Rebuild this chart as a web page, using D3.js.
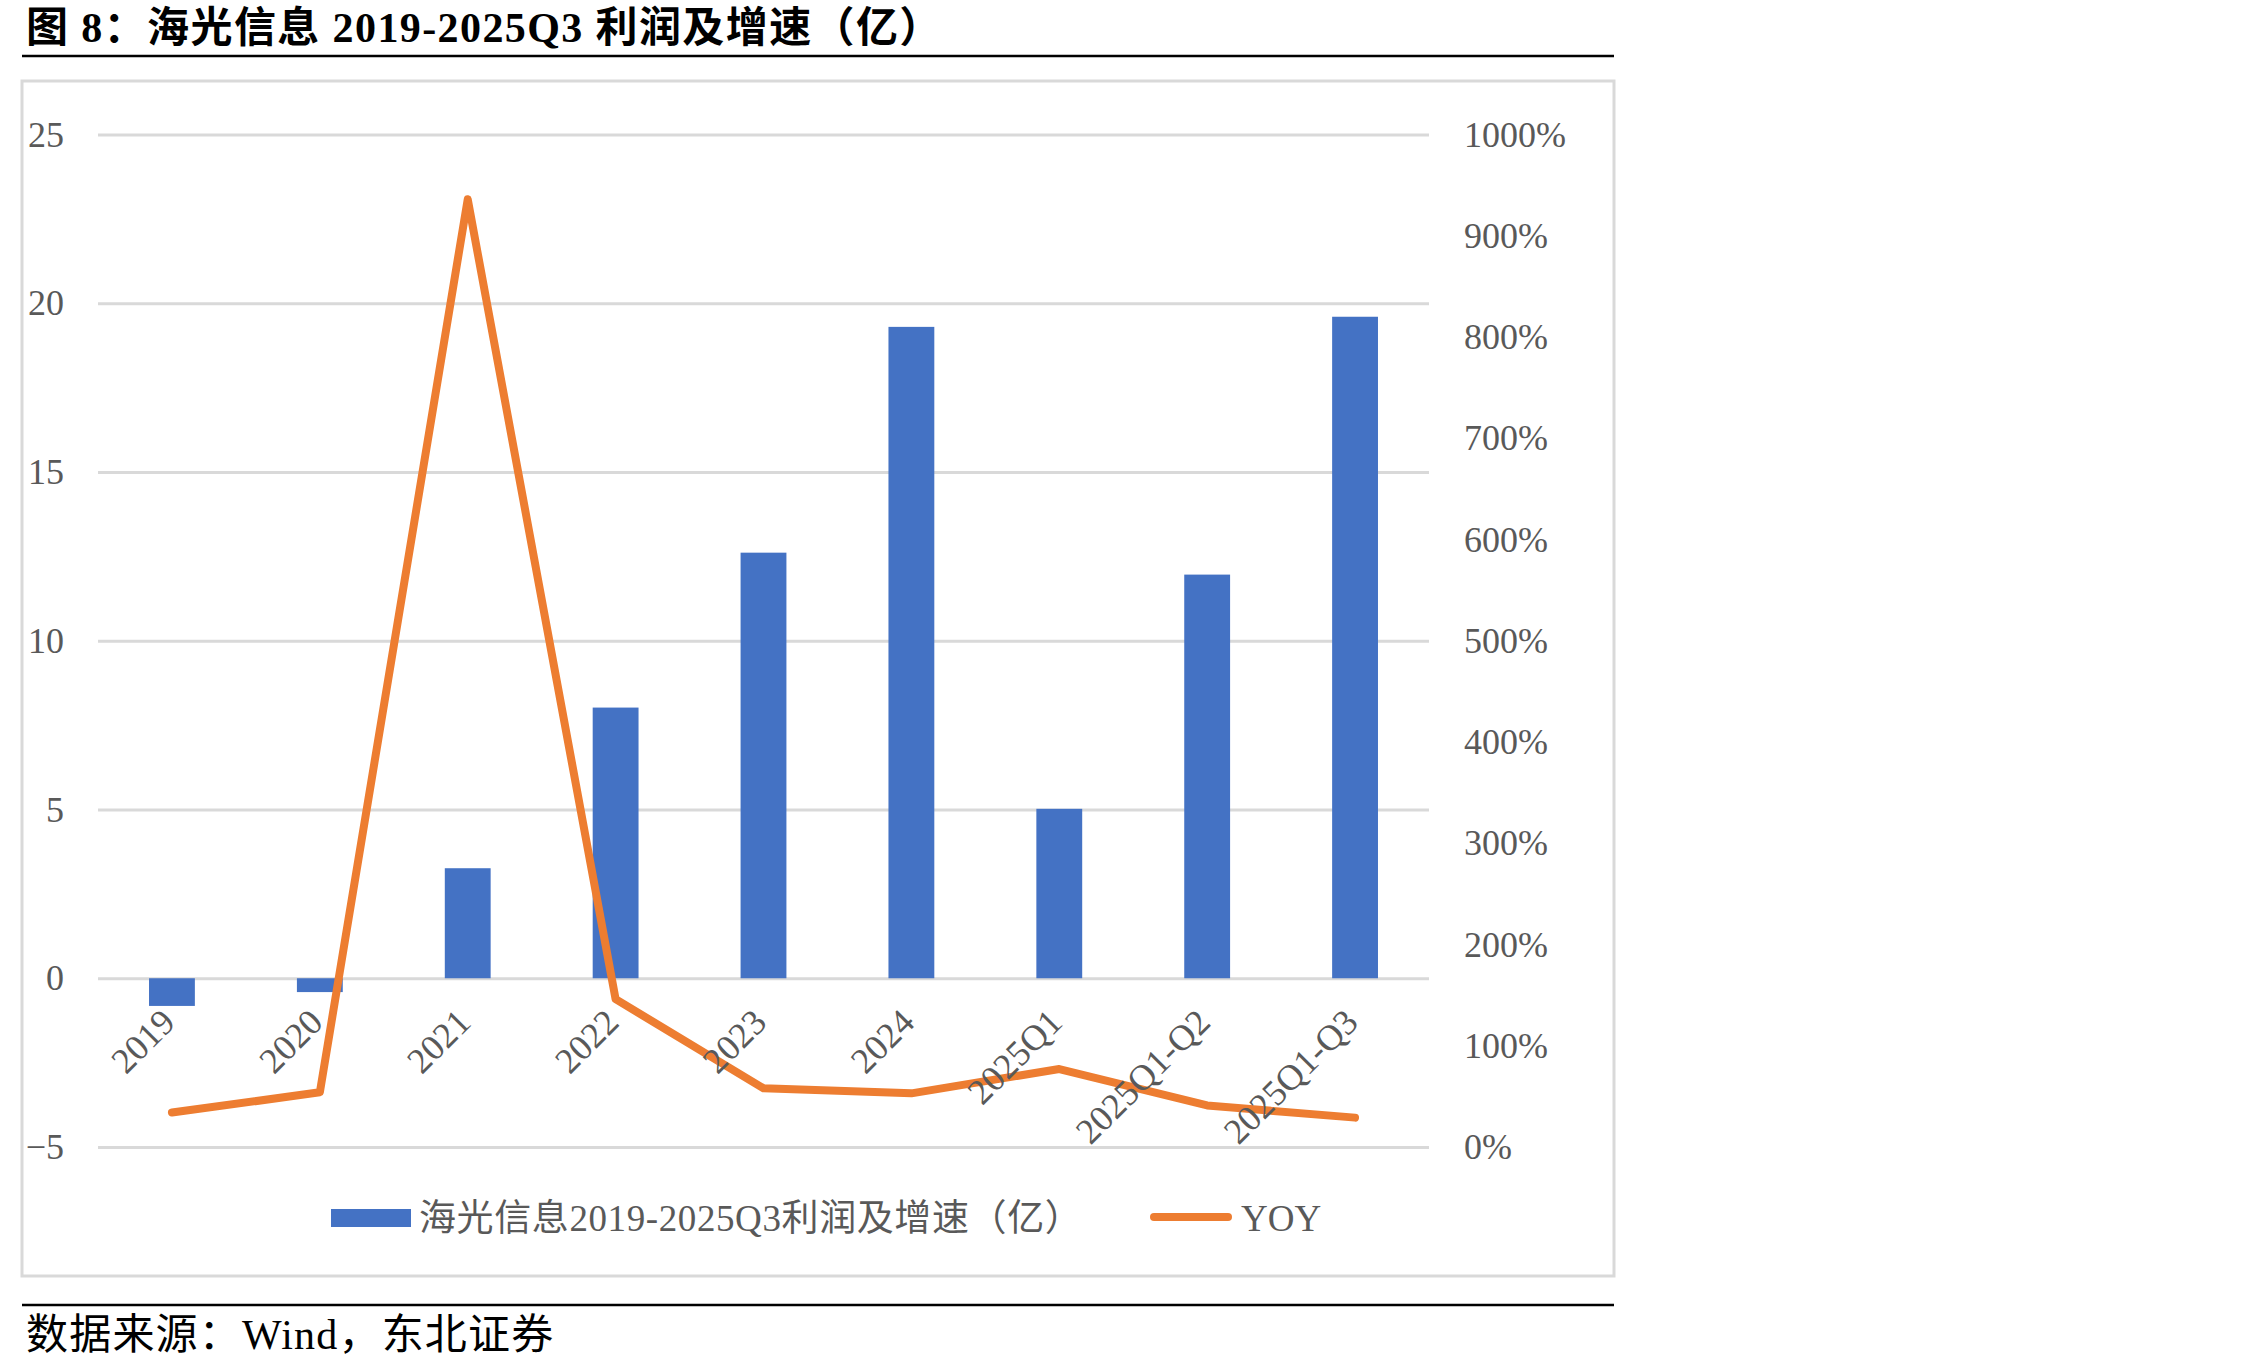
<!DOCTYPE html>
<html>
<head>
<meta charset="utf-8">
<script src="https://cdn.jsdelivr.net/npm/d3@7"></script>
<style>
body { margin: 0; background: #fff; }
text { font-family: "Liberation Serif", "Noto Sans CJK SC", serif; }
.axis text { fill: #595959; font-size: 36px; }
.axis path { display: none; }
.grid line { stroke: #d9d9d9; stroke-width: 3; }
.grid path { display: none; }
</style>
</head>
<body>
<div id="chart-area"></div>
<script>

// DATA

var categories = ["2019", "2020", "2021", "2022", "2023", "2024", "2025Q1", "2025Q1-Q2", "2025Q1-Q3"];
var profit = [-0.82, -0.41, 3.26, 8.02, 12.61, 19.30, 5.02, 11.96, 19.60];   // 亿
var yoy = [0.34, 0.54, 9.36, 1.46, 0.58, 0.53, 0.77, 0.41, 0.29];            // growth rate
var leftTicks = [-5, 0, 5, 10, 15, 20, 25];
var rightTicks = [0, 1, 2, 3, 4, 5, 6, 7, 8, 9, 10];

var titleText = "图 8：海光信息 2019-2025Q3 利润及增速（亿）";
var barName = "海光信息2019-2025Q3利润及增速（亿）";
var lineName = "YOY";
var sourceText = "数据来源：Wind，东北证券";


// CHART AREA

var W = 2268, H = 1370;
var plot = {left: 98, right: 1429, top: 134.5, bottom: 1147};

var svg = d3.select("#chart-area").append("svg")
    .attr("width", W)
    .attr("height", H);

// title + rules
svg.append("text")
    .attr("x", 26)
    .attr("y", 42)
    .style("font-size", "42px")
    .style("font-weight", "bold")
    .style("letter-spacing", "1.4px")
    .attr("fill", "#000")
    .text(titleText);

svg.append("line")
    .attr("x1", 22).attr("x2", 1614)
    .attr("y1", 56).attr("y2", 56)
    .attr("stroke", "#000").attr("stroke-width", 2.5);

svg.append("rect")
    .attr("x", 22).attr("y", 81)
    .attr("width", 1592).attr("height", 1195)
    .attr("fill", "#fff")
    .attr("stroke", "#d9d9d9").attr("stroke-width", 3);

svg.append("line")
    .attr("x1", 22).attr("x2", 1614)
    .attr("y1", 1305).attr("y2", 1305)
    .attr("stroke", "#000").attr("stroke-width", 2.5);

svg.append("text")
    .attr("x", 26)
    .attr("y", 1349)
    .style("font-size", "42px")
    .style("letter-spacing", "1.2px")
    .attr("fill", "#000")
    .text(sourceText);


// SCALES

var x = d3.scaleBand()
    .domain(categories)
    .range([plot.left, plot.right])
    .paddingInner(0.69)
    .paddingOuter(0.345);

var y = d3.scaleLinear()
    .domain([-5, 25])
    .range([plot.bottom, plot.top]);

var y2 = d3.scaleLinear()
    .domain([0, 10])
    .range([plot.bottom, plot.top]);


// GRID + AXES

svg.append("g")
    .attr("class", "grid")
    .attr("transform", "translate(" + plot.left + ",0)")
    .call(d3.axisLeft(y).tickValues(leftTicks).tickSize(-(plot.right - plot.left)).tickFormat(""));

svg.append("g")
    .attr("class", "y-axis axis")
    .attr("transform", "translate(" + plot.left + ",0)")
    .call(d3.axisLeft(y).tickValues(leftTicks).tickSize(0).tickPadding(34));

svg.append("g")
    .attr("class", "y2-axis axis")
    .attr("transform", "translate(" + plot.right + ",0)")
    .call(d3.axisRight(y2).tickValues(rightTicks).tickSize(0).tickPadding(35)
        .tickFormat(function(d) { return Math.round(d * 100) + "%"; }));


// BARS

svg.selectAll(".bar")
    .data(profit)
    .enter()
    .append("rect")
    .attr("class", "bar")
    .attr("x", function(d, i) { return x(categories[i]); })
    .attr("y", function(d) { return y(Math.max(0, d)); })
    .attr("width", x.bandwidth())
    .attr("height", function(d) { return Math.abs(y(d) - y(0)); })
    .attr("fill", "#4472c4");


// YOY LINE

var line = d3.line()
    .x(function(d, i) { return x(categories[i]) + x.bandwidth() / 2; })
    .y(function(d) { return y2(d); });

svg.append("path")
    .datum(yoy)
    .attr("d", line)
    .attr("fill", "none")
    .attr("stroke", "#ed7d31")
    .attr("stroke-width", 8)
    .attr("stroke-linejoin", "round")
    .attr("stroke-linecap", "round");


// X AXIS (labels on top of the line)

var xAxisGroup = svg.append("g")
    .attr("class", "x-axis axis")
    .attr("transform", "translate(0," + y(0) + ")")
    .call(d3.axisBottom(x).tickSize(0));

xAxisGroup.selectAll("text")
    .attr("x", 0)
    .attr("y", 0)
    .attr("dy", 0)
    .style("text-anchor", "end")
    .attr("transform", "translate(5,46) rotate(-45)");


// LEGEND

var legend = svg.append("g").attr("class", "legend");

legend.append("rect")
    .attr("x", 331).attr("y", 1209)
    .attr("width", 80).attr("height", 18)
    .attr("fill", "#4472c4");

legend.append("text")
    .attr("x", 419).attr("y", 1218)
    .attr("dy", "0.35em")
    .style("font-size", "37px")
    .style("letter-spacing", "0.6px")
    .attr("fill", "#595959")
    .text(barName);

legend.append("line")
    .attr("x1", 1154).attr("x2", 1228)
    .attr("y1", 1217).attr("y2", 1217)
    .attr("stroke", "#ed7d31")
    .attr("stroke-width", 8)
    .attr("stroke-linecap", "round");

legend.append("text")
    .attr("x", 1241).attr("y", 1218)
    .attr("dy", "0.35em")
    .style("font-size", "37px")
    .attr("fill", "#595959")
    .text(lineName);

</script>
</body>
</html>
